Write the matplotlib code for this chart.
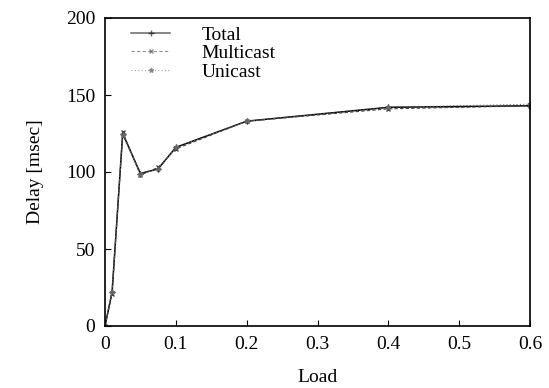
import matplotlib
matplotlib.use("Agg")
import matplotlib.pyplot as plt

load = [0.0, 0.01, 0.025, 0.05, 0.075, 0.1, 0.2, 0.4, 0.6]
total = [0, 22, 125, 99, 102, 116, 133, 142, 143]
multicast = [0, 21, 126, 98, 103, 115, 133, 141, 143]
unicast = [0, 22, 124, 99, 102, 116, 133, 142, 144]

xticks = [0, 0.1, 0.2, 0.3, 0.4, 0.5, 0.6]
xticklabels = ["0", "0.1", "0.2", "0.3", "0.4", "0.5", "0.6"]
yticks = [0, 50, 100, 150, 200]

plt.rcParams['font.family'] = ['Liberation Serif', 'DejaVu Serif']
fig = plt.figure(figsize=(5.49, 3.88), dpi=100)
ax = fig.add_axes([105/549, 1-326/388, 425/549, 308/388])

ax.plot(load, total, color='black', lw=1.1, marker='+', ms=5, label='Total')
ax.plot(load, multicast, color='#444444', lw=0.8, ls=(0, (3, 2)), marker='x', ms=3.5, label='Multicast')
ax.plot(load, unicast, color='#666666', lw=0.8, ls=(0, (1, 2)), marker='*', ms=3.5, label='Unicast')

ax.set_xlim(0, 0.6)
ax.set_ylim(0, 200)
ax.set_xticks(xticks)
ax.set_xticklabels(xticklabels)
ax.set_yticks(yticks)
ax.tick_params(direction='in', length=4, labelsize=14, pad=7)
for s in ax.spines.values():
    s.set_linewidth(1.2)
ax.set_xlabel('Load', fontsize=14, labelpad=12)
ax.set_ylabel('Delay [msec]', fontsize=14, labelpad=16)

leg = ax.legend(loc='upper left', bbox_to_anchor=(0.03, 1.018), frameon=False, fontsize=14,
                handlelength=2.0, labelspacing=0.05, handletextpad=1.6, borderpad=0.2)
for h in leg.legend_handles:
    h.set_alpha(0.6)

fig.savefig('out.png', dpi=100)
